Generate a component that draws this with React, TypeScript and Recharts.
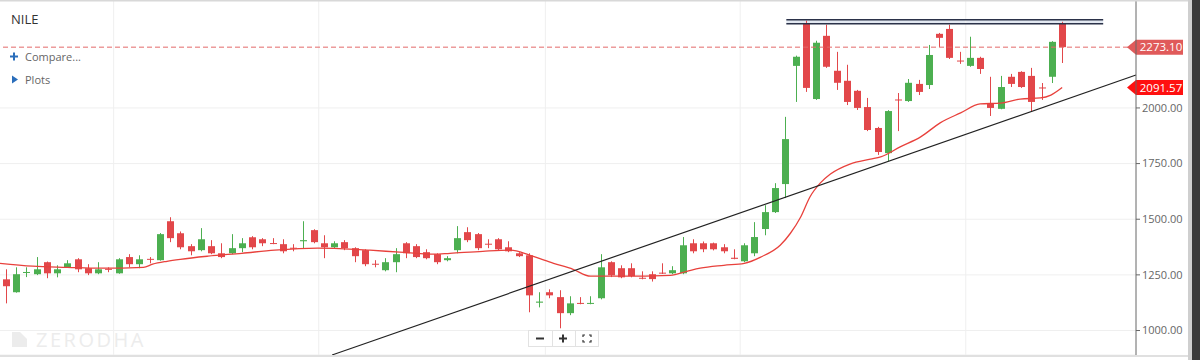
import { ComposedChart, Bar, Line, XAxis, YAxis, CartesianGrid, ReferenceLine, ReferenceArea } from "recharts";

// daily candles (index 0 = leftmost)
const opens = [
  1230, 1172, 1260, 1253, 1307, 1257, 1284, 1320, 1280, 1257, 1277, 1257, 1330, 1298, 1322, 1316, 1491, 1437, 1379, 1361,
  1379, 1347, 1347, 1370, 1419, 1410, 1393, 1388, 1372, 1401, 1451, 1392, 1374, 1397, 1370, 1361, 1300, 1271, 1307, 1392,
  1379, 1352, 1343, 1316, 1361, 1442, 1433, 1390, 1410, 1374, 1347, 1338, 1125, 1172, 1150, 1078, 1124, 1120, 1145, 1307,
  1280, 1280, 1237, 1253, 1260, 1257, 1257, 1392, 1392, 1392, 1374, 1327, 1311, 1347, 1456, 1532, 1658, 2189, 2378, 2040,
  2324, 2167, 2122, 2077, 2004, 1910, 1797, 2038, 2031, 2108, 2103, 2333, 2355, 2213, 2189, 2225, 2022, 1996, 2140, 2162,
  2144, 2092, 2140, 2378,
];
const highs = [
  1275, 1284, 1284, 1330, 1310, 1293, 1316, 1325, 1298, 1307, 1284, 1325, 1343, 1338, 1330, 1438, 1509, 1445, 1388, 1460,
  1406, 1392, 1433, 1415, 1424, 1415, 1415, 1410, 1388, 1491, 1455, 1428, 1401, 1406, 1374, 1365, 1316, 1325, 1370, 1397,
  1388, 1365, 1347, 1334, 1469, 1464, 1438, 1410, 1415, 1401, 1352, 1347, 1172, 1185, 1181, 1154, 1150, 1154, 1343, 1311,
  1293, 1302, 1266, 1266, 1302, 1289, 1420, 1410, 1400, 1395, 1388, 1365, 1392, 1487, 1563, 1662, 1960, 2235, 2392, 2302,
  2374, 2252, 2194, 2081, 2045, 1915, 1990, 2067, 2130, 2126, 2283, 2337, 2374, 2252, 2320, 2230, 2140, 2144, 2153, 2165,
  2180, 2112, 2300, 2387,
];
const lows = [
  1122, 1170, 1240, 1249, 1235, 1239, 1282, 1262, 1249, 1253, 1262, 1255, 1284, 1280, 1302, 1314, 1397, 1365, 1338, 1356,
  1343, 1325, 1343, 1352, 1365, 1379, 1388, 1347, 1356, 1370, 1392, 1325, 1370, 1361, 1307, 1289, 1284, 1266, 1262, 1325,
  1325, 1320, 1298, 1311, 1347, 1397, 1361, 1370, 1361, 1352, 1330, 1082, 1104, 1145, 1010, 1069, 1118, 1118, 1140, 1240,
  1235, 1239, 1230, 1220, 1254, 1253, 1253, 1347, 1352, 1360, 1347, 1320, 1307, 1334, 1428, 1528, 1595, 2027, 2072, 2036,
  2180, 2081, 2013, 1991, 1896, 1789, 1761, 1896, 2027, 2058, 2085, 2274, 2220, 2198, 2185, 2153, 1964, 1994, 2094, 2090,
  1986, 2036, 2112, 2202,
];
const closes = [
  1199, 1253, 1263, 1275, 1257, 1275, 1302, 1275, 1257, 1275, 1273, 1320, 1298, 1320, 1318, 1433, 1415, 1374, 1356, 1410,
  1347, 1330, 1370, 1392, 1374, 1392, 1390, 1356, 1368, 1406, 1397, 1374, 1392, 1370, 1334, 1298, 1296, 1307, 1343, 1347,
  1330, 1325, 1307, 1325, 1415, 1406, 1370, 1386, 1365, 1356, 1334, 1158, 1130, 1158, 1078, 1122, 1120, 1124, 1284, 1248,
  1239, 1244, 1233, 1231, 1256, 1271, 1383, 1356, 1365, 1365, 1356, 1322, 1383, 1420, 1532, 1640, 1860, 2230, 2090, 2293,
  2185, 2113, 2027, 2000, 1901, 1802, 1986, 2034, 2113, 2072, 2238, 2315, 2225, 2209, 2225, 2175, 2000, 2094, 2108, 2094,
  2027, 2088, 2297, 2273.1,
];

// moving average line, sampled along the red curve
const maIndex = [
  -0.585, 2.6, 6, 9.2, 13.4, 14.3, 15.7, 17, 19.7, 23, 26.2, 30.4, 34, 35.5, 38.4, 41.7, 43.3, 46.5, 49.2, 51.1, 53.4, 55.3,
  57, 59.9, 64.8, 66.4, 67.7, 70, 72, 73.6, 75.5, 76.5, 77.5, 78.4, 79.4, 80.4, 82.3, 84.3, 85.3, 87.2, 89.2, 91.1, 93.1,
  95, 97, 98.9, 100.9, 101.9, 103,
];
const maValues = [
  1302, 1289, 1284, 1280, 1284, 1298, 1311, 1320, 1334, 1347, 1361, 1370, 1365, 1361, 1352, 1343, 1347, 1356, 1361, 1338,
  1302, 1275, 1244, 1244, 1248, 1266, 1280, 1293, 1302, 1330, 1383, 1437, 1510, 1600, 1662, 1703, 1748, 1770, 1780, 1825,
  1870, 1933, 1978, 2018, 2022, 2040, 2045, 2058, 2091.57,
];

const priceTicks = [1000, 1250, 1500, 1750, 2000];
const monthLines = [10.5, 30.5, 52.6, 71.6, 93.6];
const lastClose = 2273.1;
const lastAverage = 2091.57;
const trendStart = { x: 31.8, y: 890 };
const trendEnd = { x: 110.2, y: 2148 };
const resistanceLow = 2378;
const resistanceHigh = 2396;
const resistanceFrom = 76.1;
const resistanceTo = 107;

const GREEN = "#4caf50";
const RED = "#e2474a";
const FONT = "'Open Sans', 'Noto Sans', sans-serif";

const candles = opens.map((o, i) => ({ i, o, h: highs[i], l: lows[i], c: closes[i], range: [lows[i], highs[i]] }));
const maData = maIndex.map((i, k) => ({ i, v: maValues[k] }));

function Candle(props: any) {
  const { x, y, width, height, payload } = props;
  if (x == null || y == null) return null;
  const { o, h, l, c } = payload;
  const color = c >= o ? GREEN : RED;
  const top = Math.min(y, y + height);
  const hgt = Math.abs(height);
  const span = h - l || 1;
  const toY = (v: number) => top + ((h - v) / span) * hgt;
  const cx = Math.round(x + width / 2) + 0.5;
  const bTop = toY(Math.max(o, c));
  const bBot = toY(Math.min(o, c));
  return (
    <g>
      <line x1={cx} x2={cx} y1={top} y2={top + hgt} stroke={color} strokeWidth={1} />
      <rect x={cx - 3.5} y={bTop} width={7} height={Math.max(1, bBot - bTop)} fill={color} />
    </g>
  );
}

function PriceTag({ viewBox, text, color }: any) {
  if (!viewBox) return null;
  const right = viewBox.x + viewBox.width;
  const yc = viewBox.y;
  const pts = `${right - 9},${yc} ${right},${yc - 7.5} ${right + 47},${yc - 7.5} ${right + 47},${yc + 7.5} ${right},${yc + 7.5}`;
  return (
    <g>
      <polygon points={pts} fill={color} />
      <text x={right + 25} y={yc + 4} textAnchor="middle" fill="#fff" fontSize={11.5} fontFamily={FONT}>
        {text}
      </text>
    </g>
  );
}

export default function App() {
  return (
    <div style={{ position: "absolute", left: 0, top: 0, width: 1200, height: 360, background: "#fff", fontFamily: FONT }}>
      <ComposedChart width={1200} height={360} data={candles} margin={{ top: 0, right: 0, left: 0, bottom: 5 }}>
        <CartesianGrid vertical={false} stroke="#efefef" />
        <XAxis dataKey="i" type="number" domain={[-0.585, 110.2]} allowDataOverflow hide />
        <YAxis
          orientation="right"
          width={64}
          domain={[890, 2485]}
          ticks={priceTicks}
          allowDataOverflow
          tickFormatter={(v: number) => v.toFixed(2)}
          axisLine={{ stroke: "#666" }}
          tickLine={{ stroke: "#666" }}
          tickSize={4}
          tick={{ fill: "#666", fontSize: 11, fontFamily: FONT }}
        />
        {monthLines.map((m) => (
          <ReferenceLine key={m} x={m} stroke="#efefef" />
        ))}
        <ReferenceArea x1={resistanceFrom} x2={resistanceTo} y1={resistanceLow} y2={resistanceHigh} fill="#e2e8f1" fillOpacity={1} stroke="none" />
        <ReferenceLine segment={[{ x: resistanceFrom, y: resistanceHigh }, { x: resistanceTo, y: resistanceHigh }]} stroke="#2b3249" strokeWidth={1.5} />
        <ReferenceLine segment={[{ x: resistanceFrom, y: resistanceLow }, { x: resistanceTo, y: resistanceLow }]} stroke="#2b3249" strokeWidth={1.5} />
        <ReferenceLine
          y={lastClose}
          stroke="#e36a6a"
          strokeDasharray="5 3"
          label={(p: any) => <PriceTag {...p} text={lastClose.toFixed(2)} color="#e05a5a" />}
        />
        <Bar dataKey="range" barSize={7} shape={<Candle />} isAnimationActive={false} />
        <Line
          data={maData}
          dataKey="v"
          type="monotone"
          dot={false}
          activeDot={false}
          stroke="#e8413c"
          strokeWidth={1.3}
          isAnimationActive={false}
        />
        <ReferenceLine segment={[trendStart, trendEnd]} stroke="#222" strokeWidth={1.2} />
        <ReferenceLine
          y={lastAverage}
          stroke="none"
          label={(p: any) => <PriceTag {...p} text={lastAverage.toFixed(2)} color="#ff1010" />}
        />
      </ComposedChart>
      <svg width={1200} height={360} style={{ position: "absolute", left: 0, top: 0, pointerEvents: "none" }}>
        <rect x={0} y={0} width={1188} height={1.5} fill="#d8d8d8" />
        <rect x={0} y={355} width={1188} height={2} fill="#e0e0e0" />
        <rect x={1188} y={0} width={4} height={360} fill="#cfcfcf" />
        <rect x={1192} y={0} width={8} height={360} fill="#3a3a3a" />
        <text x={11} y={24} fontSize={13} fill="#333" fontFamily={FONT}>NILE</text>
        <path d="M10 56.5 H18 M14 52.5 V60.5" stroke="#2a6ebb" strokeWidth={2} />
        <text x={25} y={60.5} fontSize={11} fill="#666" fontFamily={FONT}>Compare...</text>
        <polygon points="12,75.5 18,79.5 12,83.5" fill="#2a6ebb" />
        <text x={25} y={84} fontSize={11} fill="#666" fontFamily={FONT}>Plots</text>
        <polygon points="12,332 20,332 27,339 27,347 12,347" fill="#ececec" />
        <text x={36} y={347} fontSize={20} fill="#ececec" fontFamily={FONT} letterSpacing={2.5}>ZERODHA</text>
        <rect x={528.5} y={330.5} width={70} height={16} fill="#fff" stroke="#e2e2e2" />
        <line x1={552.5} x2={552.5} y1={331} y2={346} stroke="#e2e2e2" />
        <line x1={575.5} x2={575.5} y1={331} y2={346} stroke="#e2e2e2" />
        <path d="M536 338.5 H544" stroke="#333" strokeWidth={2} />
        <path d="M559 338.5 H567 M563 334.5 V342.5" stroke="#333" strokeWidth={2} />
        <path d="M583 337 V335 H585 M589 335 H591 V337 M591 340 V342 H589 M585 342 H583 V340" stroke="#333" strokeWidth={1.2} fill="none" />
      </svg>
    </div>
  );
}
